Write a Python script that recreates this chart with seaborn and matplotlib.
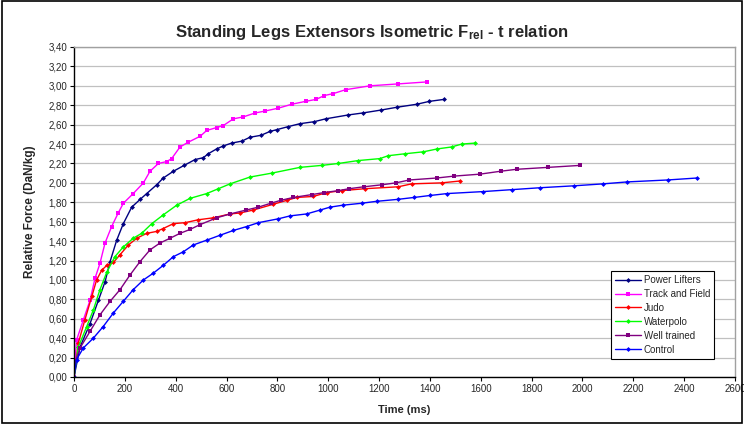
import matplotlib
matplotlib.use("Agg")
import matplotlib.pyplot as plt
import seaborn as sns
import pandas as pd
from matplotlib.ticker import FuncFormatter, MultipleLocator
from matplotlib.patches import Rectangle

# values (time in ms, relative force in DaN/kg)
groups = ["Power Lifters", "Track and Field", "Judo", "Waterpolo", "Well trained", "Control"]

power_t = [0, 24, 63, 96, 122, 142, 168, 194, 227, 260, 286, 325, 351, 391, 433, 476, 509, 528, 561,
           587, 620, 660, 692, 735, 771, 800, 843, 889, 944, 990, 1079, 1135, 1207, 1272, 1348, 1398, 1455]
power_f = [0, 0.31, 0.55, 0.79, 0.98, 1.19, 1.41, 1.58, 1.75, 1.83, 1.89, 1.98, 2.05, 2.12, 2.18, 2.24, 2.26,
           2.30, 2.35, 2.38, 2.41, 2.43, 2.47, 2.49, 2.53, 2.55, 2.58, 2.61, 2.63, 2.66, 2.70, 2.72, 2.75,
           2.78, 2.81, 2.84, 2.86]

track_t = [0, 10, 37, 63, 83, 102, 122, 148, 174, 194, 233, 273, 299, 332, 365, 384, 417, 450, 496, 522,
           561, 587, 627, 666, 712, 751, 804, 856, 911, 952, 985, 1020, 1068, 1164, 1276, 1387]
track_f = [0, 0.38, 0.59, 0.79, 1.02, 1.17, 1.38, 1.55, 1.69, 1.79, 1.89, 2.00, 2.12, 2.20, 2.22, 2.25, 2.37,
           2.42, 2.48, 2.54, 2.57, 2.59, 2.66, 2.68, 2.72, 2.74, 2.77, 2.81, 2.84, 2.86, 2.90, 2.92, 2.96,
           3.00, 3.02, 3.04]

judo_t = [0, 17, 43, 70, 89, 109, 129, 155, 181, 214, 247, 286, 325, 351, 391, 437, 489, 548, 614, 653,
          705, 784, 837, 876, 941, 994, 1053, 1145, 1276, 1328, 1446, 1520]
judo_f = [0, 0.35, 0.59, 0.83, 1.00, 1.10, 1.15, 1.18, 1.26, 1.36, 1.43, 1.48, 1.50, 1.53, 1.58, 1.59, 1.62,
          1.64, 1.68, 1.69, 1.72, 1.78, 1.82, 1.85, 1.86, 1.90, 1.92, 1.94, 1.96, 1.99, 2.00, 2.02]

water_t = [0, 17, 50, 76, 102, 129, 161, 194, 233, 266, 306, 351, 404, 456, 522, 568, 614, 692, 777, 889,
           974, 1040, 1118, 1203, 1236, 1302, 1374, 1429, 1485, 1525, 1577]
water_f = [0, 0.31, 0.52, 0.69, 0.90, 1.08, 1.24, 1.34, 1.43, 1.48, 1.58, 1.67, 1.77, 1.84, 1.89, 1.94, 1.99,
           2.06, 2.10, 2.16, 2.18, 2.20, 2.23, 2.25, 2.28, 2.30, 2.32, 2.35, 2.37, 2.40, 2.41]

well_t = [0, 24, 63, 102, 142, 181, 220, 260, 299, 338, 378, 417, 456, 496, 561, 614, 677, 725, 774, 813,
          863, 937, 983, 1040, 1082, 1141, 1210, 1266, 1319, 1426, 1496, 1597, 1678, 1741, 1866, 1990]
well_f = [0.12, 0.30, 0.47, 0.64, 0.78, 0.90, 1.05, 1.19, 1.31, 1.38, 1.43, 1.48, 1.52, 1.57, 1.64, 1.68,
          1.72, 1.75, 1.79, 1.82, 1.85, 1.88, 1.90, 1.92, 1.94, 1.96, 1.98, 2.00, 2.03, 2.05, 2.07, 2.09,
          2.12, 2.14, 2.16, 2.18]

control_t = [0, 10, 37, 76, 115, 155, 194, 233, 273, 312, 351, 391, 430, 469, 522, 574, 627, 679, 725, 804,
             850, 915, 968, 1007, 1057, 1131, 1190, 1273, 1338, 1400, 1468, 1607, 1721, 1833, 1968, 2082,
             2176, 2335, 2449]
control_f = [0, 0.18, 0.30, 0.40, 0.52, 0.66, 0.78, 0.90, 1.00, 1.07, 1.15, 1.24, 1.29, 1.36, 1.41, 1.46,
             1.51, 1.55, 1.59, 1.63, 1.66, 1.68, 1.72, 1.75, 1.77, 1.79, 1.81, 1.83, 1.85, 1.87, 1.89, 1.91,
             1.93, 1.95, 1.97, 1.99, 2.01, 2.03, 2.05]

series = {
    "Power Lifters": (power_t, power_f),
    "Track and Field": (track_t, track_f),
    "Judo": (judo_t, judo_f),
    "Waterpolo": (water_t, water_f),
    "Well trained": (well_t, well_f),
    "Control": (control_t, control_f),
}

colors = {
    "Power Lifters": "#000080",
    "Track and Field": "#ff00ff",
    "Judo": "#ff0000",
    "Waterpolo": "#00ff00",
    "Well trained": "#800080",
    "Control": "#0000ff",
}
markers = {
    "Power Lifters": "D",
    "Track and Field": "s",
    "Judo": "D",
    "Waterpolo": "D",
    "Well trained": "s",
    "Control": "D",
}


def main():
    rows = []
    for g in groups:
        t, f = series[g]
        for ti, fi in zip(t, f):
            rows.append({"group": g, "t": ti, "F": fi})
    df = pd.DataFrame(rows)

    sns.set_theme(style="white")
    plt.rcParams["font.family"] = ["Liberation Sans", "DejaVu Sans"]
    plt.rcParams["mathtext.fontset"] = "custom"
    plt.rcParams["mathtext.bf"] = "Liberation Sans:bold"
    plt.rcParams["mathtext.rm"] = "Liberation Sans"

    fig = plt.figure(figsize=(7.44, 4.24), dpi=100)
    ax = fig.add_axes([74 / 744, 47 / 424, 661 / 744, 330 / 424])

    sns.lineplot(
        data=df, x="t", y="F", hue="group", style="group",
        hue_order=groups, style_order=groups,
        palette=colors, markers=markers, dashes=False,
        estimator=None, sort=False, linewidth=1.0,
        markersize=2.5, markeredgewidth=0, ax=ax,
    )

    ax.set_xlim(0, 2600)
    ax.set_ylim(0, 3.4)
    ax.xaxis.set_major_locator(MultipleLocator(200))
    ax.yaxis.set_major_locator(MultipleLocator(0.2))
    ax.yaxis.set_major_formatter(FuncFormatter(lambda v, p: f"{v:.2f}".replace(".", ",")))
    ax.grid(axis="y", color="#c0c0c0", linewidth=0.9)
    ax.grid(axis="x", visible=False)
    ax.tick_params(axis="both", which="major", labelsize=7, length=3, width=0.8,
                   direction="out", color="black", pad=2, bottom=True, left=True)

    for side in ["left", "bottom"]:
        ax.spines[side].set_color("black")
        ax.spines[side].set_linewidth(1.0)
    for side in ["top", "right"]:
        ax.spines[side].set_color("#a0a0a0")
        ax.spines[side].set_linewidth(1.0)

    ax.set_xlabel("Time (ms)", fontsize=8, fontweight="bold", labelpad=8)
    ax.set_ylabel("Relative Force (DaN/kg)", fontsize=8.5, fontweight="bold", labelpad=9)
    fig.text(0.5, 1 - 33 / 424,
             r"Standing Legs Extensors Isometric $\mathbf{F_{rel}}$ - t relation",
             ha="center", va="center", fontsize=12, fontweight="bold")

    leg = ax.legend(loc="lower left", bbox_to_anchor=(0.805, 0.04), fontsize=7,
                    frameon=True, fancybox=False, edgecolor="black", framealpha=1,
                    borderpad=0.45, labelspacing=0.4, handlelength=2.6, handletextpad=0.3)
    leg.get_frame().set_linewidth(0.8)

    # outer chart frame
    fig.patches.append(Rectangle((0.003, 0.003), 0.994, 0.994, transform=fig.transFigure,
                                 fill=False, edgecolor="black", linewidth=1.2))

    plt.savefig("out.png", dpi=100)


if __name__ == "__main__":
    main()
